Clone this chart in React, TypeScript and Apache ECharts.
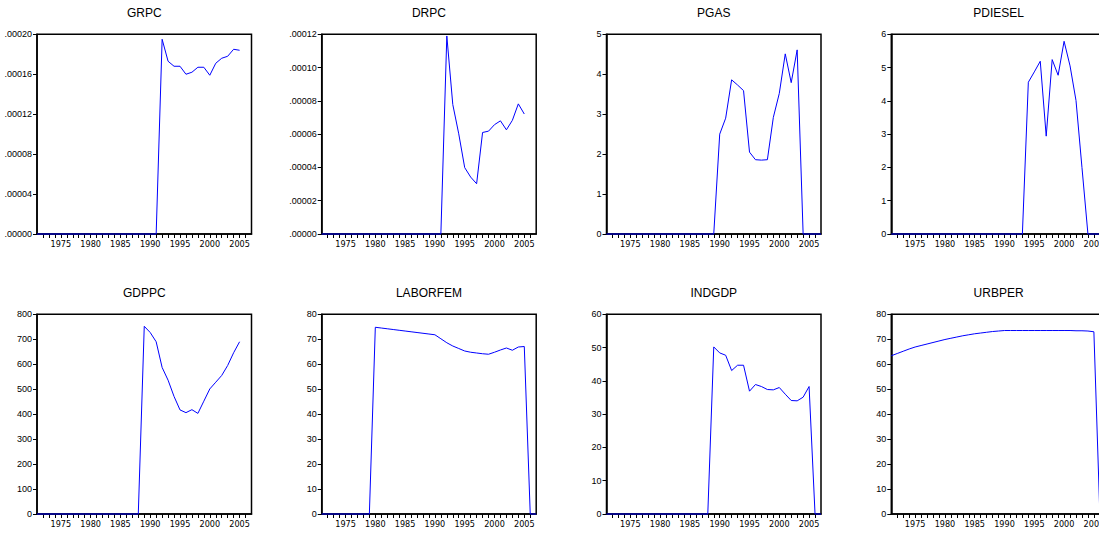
import React, { useEffect, useRef } from "react";
import * as echarts from "echarts";

const years = [
  1971, 1972, 1973, 1974, 1975, 1976, 1977, 1978, 1979, 1980,
  1981, 1982, 1983, 1984, 1985, 1986, 1987, 1988, 1989, 1990,
  1991, 1992, 1993, 1994, 1995, 1996, 1997, 1998, 1999, 2000,
  2001, 2002, 2003, 2004, 2005, 2006, 2007,
];

const titles = ["GRPC", "DRPC", "PGAS", "PDIESEL", "GDPPC", "LABORFEM", "INDGDP", "URBPER"];

const grpc = [
  0, 0, 0, 0, 0, 0, 0, 0, 0, 0, 0, 0, 0, 0, 0, 0, 0, 0, 0, 0, 0,
  0.000195, 0.000173, 0.000168, 0.000168, 0.00016, 0.000162, 0.000167, 0.000167,
  0.000159, 0.000171, 0.000176, 0.000178, 0.000185, 0.000184, null, null,
];
const drpc = [
  0, 0, 0, 0, 0, 0, 0, 0, 0, 0, 0, 0, 0, 0, 0, 0, 0, 0, 0, 0, 0,
  0.000119, 0.0000778, 0.0000602, 0.0000399, 0.0000342, 0.0000302, 0.000061, 0.0000618,
  0.0000657, 0.000068, 0.0000626, 0.0000683, 0.0000782, 0.0000721, null, null,
];
const pgas = [
  0, 0, 0, 0, 0, 0, 0, 0, 0, 0, 0, 0, 0, 0, 0, 0, 0, 0, 0,
  2.5, 2.9, 3.86, 3.73, 3.59, 2.05, 1.86, 1.85, 1.86, 2.92, 3.52, 4.51, 3.79, 4.61,
  0, 0, 0, 0,
];
const pdiesel = [
  0, 0, 0, 0, 0, 0, 0, 0, 0, 0, 0, 0, 0, 0, 0, 0, 0, 0, 0, 0, 0, 0, 0,
  4.56, 4.87, 5.19, 2.94, 5.24, 4.77, 5.79, 5.05, 4.01, 2.0,
  0, 0, 0, 0,
];
const gdppc = [
  0, 0, 0, 0, 0, 0, 0, 0, 0, 0, 0, 0, 0, 0, 0, 0, 0, 0,
  752, 727, 690, 587, 536, 471, 417, 406, 418, 403, 452, 501, 528, 555, 595, 646, 690,
  null, null,
];
const laborfem = [
  0, 0, 0, 0, 0, 0, 0, 0, 0,
  74.8, 74.5, 74.2, 73.9, 73.6, 73.3, 73.0, 72.7, 72.4, 72.1, 71.8, 70.2, 68.6,
  67.3, 66.3, 65.3, 64.8, 64.5, 64.2, 64.0, 64.8, 65.7, 66.5, 65.6, 66.9, 67.1,
  0, 0,
];
const indgdp = [
  0, 0, 0, 0, 0, 0, 0, 0, 0, 0, 0, 0, 0, 0, 0, 0, 0, 0,
  50.2, 48.4, 47.7, 43.1, 44.7, 44.7, 36.9, 38.9, 38.3, 37.4, 37.3, 38.0, 36.0,
  34.1, 34.0, 35.1, 38.3,
  0, 0,
];
const urbper = [
  63.4, 64.3, 65.2, 66.1, 66.9, 67.5, 68.1, 68.7, 69.3, 69.9, 70.4, 70.9, 71.4,
  71.8, 72.2, 72.5, 72.8, 73.1, 73.3,
  73.5, 73.5, 73.5, 73.5, 73.5, 73.5, 73.5, 73.5, 73.5, 73.5, 73.5, 73.5, 73.4, 73.4, 73.3,
  73.0, 0, 0,
];

const yMax = [0.0002, 0.00012, 5, 6, 800, 80, 60, 80];
const yInterval = [0.00004, 0.00002, 1, 1, 100, 10, 10, 10];
const yDecimals = [5, 5, 0, 0, 0, 0, 0, 0];
const xLabelYears = [1975, 1980, 1985, 1990, 1995, 2000, 2005];

const allSeries = [grpc, drpc, pgas, pdiesel, gdppc, laborfem, indgdp, urbper];

export default function App() {
  const ref = useRef<HTMLDivElement>(null);
  useEffect(() => {
    if (!ref.current) return;
    const chart = echarts.init(ref.current, undefined, { renderer: "svg" });
    const colLeft = [37, 321.7, 606.5, 891.3];
    const rowTop = [34.3, 314.3];
    const gw = 214.5;
    const gh = 199.7;
    const titleTop = [7, 287];
    const font = "'Liberation Sans', Arial, sans-serif";
    const narrow = "'Liberation Sans Narrow', 'Arial Narrow', 'DejaVu Sans Condensed', 'Liberation Sans', Arial, sans-serif";

    const grid: any[] = [];
    const xAxis: any[] = [];
    const yAxis: any[] = [];
    const series: any[] = [];
    const title: any[] = [];

    allSeries.forEach((vals, i) => {
      const c = i % 4;
      const r = Math.floor(i / 4);
      grid.push({
        left: colLeft[c],
        top: rowTop[r],
        width: gw,
        height: gh,
        show: true,
        borderColor: "#000",
        borderWidth: 1.5,
        backgroundColor: "#fff",
        containLabel: false,
      });
      title.push({
        text: titles[i],
        left: colLeft[c] + gw / 2,
        top: titleTop[r],
        textAlign: "center",
        padding: 0,
        textStyle: {
          fontSize: 12,
          fontWeight: "normal",
          color: "#000",
          fontFamily: font,
        },
      });
      xAxis.push({
        type: "value",
        gridIndex: i,
        min: 1971,
        max: 2007,
        interval: 1,
        axisLine: { show: true, onZero: false, lineStyle: { color: "#000", width: 1.5 } },
        axisTick: { show: true, inside: false, length: 4, lineStyle: { color: "#000", width: 1 } },
        splitLine: { show: false },
        axisLabel: {
          show: true,
          margin: 5,
          fontSize: 9,
          color: "#000",
          fontFamily: narrow,
          showMinLabel: false,
          showMaxLabel: false,
          formatter: (v: number) => (xLabelYears.includes(v) ? String(v) : ""),
        },
      });
      const dec = yDecimals[i];
      yAxis.push({
        type: "value",
        gridIndex: i,
        min: 0,
        max: yMax[i],
        interval: yInterval[i],
        axisLine: { show: true, onZero: false, lineStyle: { color: "#000", width: 1.5 } },
        axisTick: { show: true, inside: false, length: 4, lineStyle: { color: "#000", width: 1 } },
        splitLine: { show: false },
        axisLabel: {
          show: true,
          margin: 5,
          fontSize: 9,
          color: "#000",
          fontFamily: font,
          formatter: (v: number) =>
            dec > 0 ? v.toFixed(dec).replace(/^0/, "") : String(Math.round(v)),
        },
      });
      series.push({
        type: "line",
        xAxisIndex: i,
        yAxisIndex: i,
        data: years.map((y, k) => [y, vals[k]]),
        showSymbol: false,
        symbol: "none",
        connectNulls: false,
        clip: false,
        lineStyle: { color: "#0000ff", width: 1 },
        itemStyle: { color: "#0000ff" },
        z: 3,
      });
    });

    chart.setOption({
      animation: false,
      backgroundColor: "#fff",
      title,
      grid,
      xAxis,
      yAxis,
      series,
    });
    return () => chart.dispose();
  }, []);

  return (
    <div
      style={{
        position: "fixed",
        left: 0,
        top: 0,
        width: 1099,
        height: 540,
        overflow: "hidden",
        background: "#fff",
      }}
    >
      <div ref={ref} style={{ width: 1130, height: 540 }} />
    </div>
  );
}
